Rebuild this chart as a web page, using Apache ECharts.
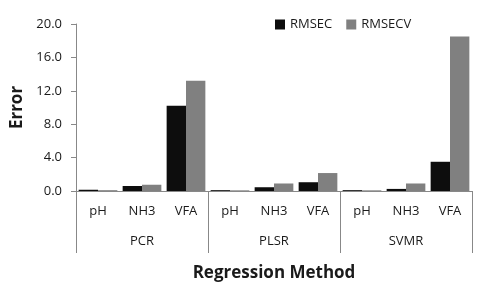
<!DOCTYPE html>
<html><head><meta charset="utf-8">
<script src="https://cdn.jsdelivr.net/npm/echarts@6/dist/echarts.min.js"></script>
<style>html,body{margin:0;padding:0;background:#fff}#c{width:480px;height:292px}</style>
</head><body><div id="c"></div>
<script>
const variables = ['pH','NH3','VFA','pH','NH3','VFA','pH','NH3','VFA'];
const methods = ['PCR','PLSR','SVMR'];
const rmsec  = [0.15, 0.6, 10.2, 0.1, 0.45, 1.05, 0.1, 0.25, 3.5];
const rmsecv = [0.1, 0.75, 13.2, 0.08, 0.9, 2.15, 0.08, 0.9, 18.5];
const yTicks = [0, 4, 8, 12, 16, 20];

const FONT = '"Open Sans", "Liberation Sans", sans-serif';
const chart = echarts.init(document.getElementById('c'), null, {renderer:'canvas'});
chart.setOption({
  animation:false,
  textStyle:{fontFamily:FONT},
  legend:{
    left:270, top:13, itemWidth:10, itemHeight:10, itemGap:14, icon:'rect',
    textStyle:{fontFamily:FONT, fontSize:13, color:'#1a1a1a'},
    data:['RMSEC','RMSECV']
  },
  grid:{left:76, right:8, top:24, bottom:101},
  xAxis:[{
    type:'category', data:variables,
    axisLine:{show:true, lineStyle:{color:'#888'}},
    axisTick:{show:false},
    axisLabel:{margin:14, fontSize:13, color:'#1a1a1a', fontFamily:FONT}
  },{
    type:'category', data:methods, position:'bottom',
    axisLine:{show:false},
    axisTick:{show:true, length:62, lineStyle:{color:'#888'}},
    axisLabel:{margin:44, fontSize:13, color:'#1a1a1a', fontFamily:FONT},
    name:'Regression Method', nameLocation:'middle', nameGap:74,
    nameTextStyle:{fontSize:17, fontWeight:'bold', color:'#1a1a1a', fontFamily:FONT}
  }],
  yAxis:{
    type:'value', min:yTicks[0], max:yTicks[yTicks.length-1], interval:4,
    axisLine:{show:true, lineStyle:{color:'#888'}},
    axisTick:{show:true, length:5, lineStyle:{color:'#888'}},
    splitLine:{show:false},
    axisLabel:{margin:14, fontSize:13, color:'#1a1a1a', fontFamily:FONT, formatter:v=>v.toFixed(1)},
    name:'Error', nameLocation:'middle', nameGap:50,
    nameTextStyle:{fontSize:17, fontWeight:'bold', color:'#1a1a1a', fontFamily:FONT}
  },
  series:[
    {name:'RMSEC', type:'bar', data:rmsec, itemStyle:{color:'#0d0d0d'}, barGap:'0%', barCategoryGap:'12%'},
    {name:'RMSECV', type:'bar', data:rmsecv, itemStyle:{color:'#808080'}, barGap:'0%', barCategoryGap:'12%'}
  ]
});
</script></body></html>
